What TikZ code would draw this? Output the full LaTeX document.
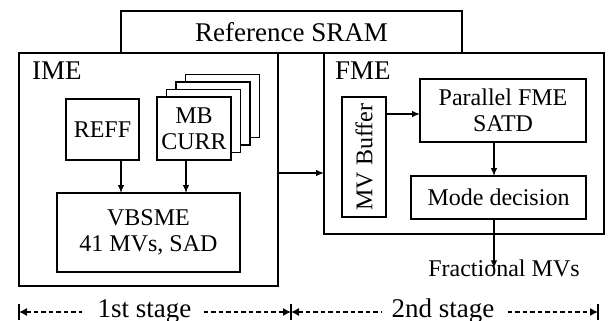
\documentclass[tikz,border=0pt]{standalone}
\usepackage{fontspec}
\setmainfont{Liberation Serif}
\usetikzlibrary{arrows.meta}
\begin{document}
\begin{tikzpicture}[x=1pt,y=-1pt,
  box/.style={draw, line width=1.2pt, fill=white, inner sep=0pt, outer sep=0pt,
    align=center, font=\fontsize{24}{27}\selectfont},
  lbl/.style={inner sep=0pt, font=\fontsize{27}{30}\selectfont},
  txt/.style={inner sep=0pt, font=\fontsize{24}{27}\selectfont},
  arr/.style={line width=1.2pt, -{Latex[length=8pt,width=6.5pt]}},
  dline/.style={line width=1.1pt, dash pattern=on 4.5pt off 3pt},
  tipL/.style={{Latex[length=8pt,width=8pt]}-},
  tipR/.style={-{Latex[length=8pt,width=8pt]}},
  barline/.style={line width=1.2pt}
]
\useasboundingbox (0,0) rectangle (610,321);

% memory on top
\node[box, minimum width=341pt, minimum height=42pt, font=\fontsize{27}{30}\selectfont]
  (sram) at (291.5,32) {Reference SRAM};

% integer motion estimation stage
\node[box, minimum width=259pt, minimum height=233pt] (ime) at (148.5,169.5) {};
\node[lbl, anchor=west] (imelbl) at (32,71) {IME};
\node[box, minimum width=73pt, minimum height=61pt] (reff) at (102.5,129.5) {REFF};
\foreach \k in {3,2,1}
  \node[box, minimum width=74pt, minimum height=63pt] (mb\k) at (194+9.5*\k,128.5-7.5*\k) {};
\node[box, minimum width=74pt, minimum height=63pt] (mb) at (194,128.5) {MB\\[-1pt]CURR};
\node[box, minimum width=183pt, minimum height=79pt] (vbsme) at (148.5,232.5) {VBSME\\[-1pt]41 MVs, SAD};

% fractional motion estimation stage
\node[box, minimum width=280pt, minimum height=181pt] (fme) at (464,143.5) {};
\node[lbl, anchor=west] (fmelbl) at (335,71) {FME};
\node[box, minimum width=44pt, minimum height=120pt] (mvb) at (364,157) {};
\node[txt, rotate=90] (mvbtxt) at (mvb.center) {MV Buffer};
\node[box, minimum width=166pt, minimum height=63pt] (pfme) at (503,110.5) {Parallel FME\\[-1pt]SATD};
\node[box, minimum width=175pt, minimum height=43pt] (md) at (498.5,197.5) {Mode decision};
\node[txt] (frac) at (504,268) {Fractional MVs};
\coordinate (col) at (494,0);

% data flow
\draw[arr] (reff.south -| 121,0) -- (vbsme.north -| 121,0);
\draw[arr] (mb.south -| 186,0) -- (vbsme.north -| 186,0);
\draw[arr] (ime.east |- 0,173) -- (fme.west |- 0,173);
\draw[arr] (mvb.east |- 0,114) -- (pfme.west |- 0,114);
\draw[arr] (pfme.south -| col) -- (md.north -| col);
\draw[arr] (md.south -| col) -- ([yshift=-9pt]frac.north -| col);

% pipeline stages
\coordinate (b1) at (19,312);
\coordinate (b2) at (291,312);
\coordinate (b3) at (598,312);
\node[lbl] (st1) at (144.5,311) {1st stage};
\node[lbl] (st2) at (443,311) {2nd stage};
\draw[dline, tipL] (b1) -- ([xshift=-15pt]st1.west |- b1);
\draw[dline, tipR] ([xshift=12pt]st1.east |- b1) -- (b2);
\draw[dline, tipL] (b2) -- ([xshift=-9pt]st2.west |- b2);
\draw[dline, tipR] ([xshift=13pt]st2.east |- b2) -- (b3);
\foreach \b in {b1,b2,b3}
  \draw[barline] ([yshift=-8pt]\b) -- ([yshift=8pt]\b);
\end{tikzpicture}
\end{document}
